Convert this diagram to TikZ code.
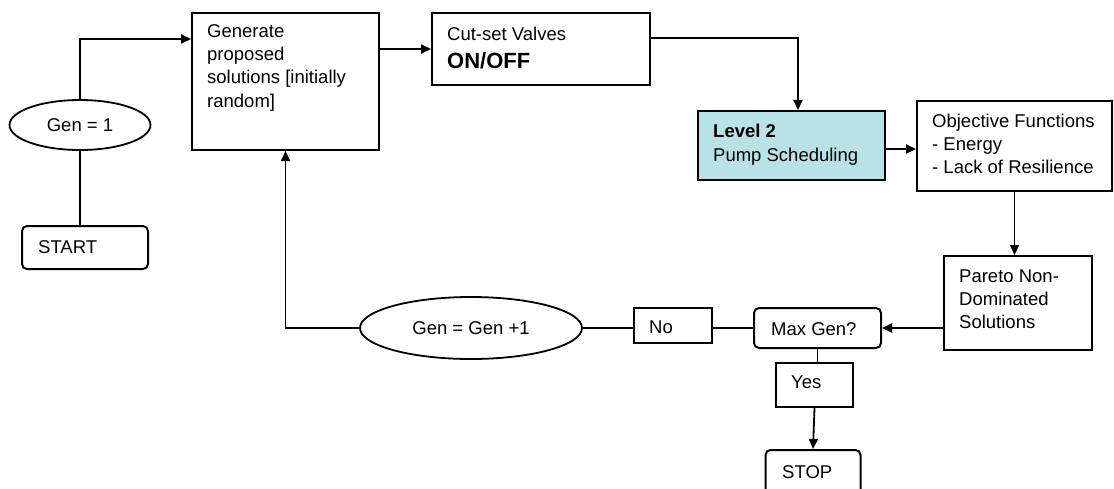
\documentclass[tikz,border=0pt]{standalone}
\usepackage{fontspec}
\setmainfont{Liberation Sans}
\usetikzlibrary{shapes.geometric,arrows.meta,calc}
\definecolor{lvlblue}{RGB}{184,226,230}
% strut of cap height so that the first line of a label has a fixed top
\newcommand\capline{\rule{0pt}{0.75em}}
\begin{document}
\begin{tikzpicture}[x=1pt,y=-1pt,
  font=\fontsize{18.5}{23.3}\selectfont,
  box/.style={draw=black,line width=2pt,fill=white,inner sep=0pt,rectangle},
  rbox/.style={box,rounded corners=5pt},
  oval/.style={draw=black,line width=1.8pt,fill=white,ellipse,inner sep=0pt},
  lbl/.style={anchor=north west,inner sep=0pt,align=left},
  word/.style={anchor=base west,inner sep=0pt},
  link/.style={line width=1.8pt},
  arr/.style={link,-{Triangle[length=10pt,width=9pt]}}]
\useasboundingbox (0,0) rectangle (1114,488);

% ---- start and initialisation
\node[rbox,minimum width=126pt,minimum height=43pt] (start) at (85,247.5) {};
\node[word] (startt) at (38,253) {START};
\node[oval,minimum width=141pt,minimum height=50pt] (g1) at (80,125) {Gen = 1};

% ---- main loop boxes
\node[box,minimum width=187pt,minimum height=137pt] (gen) at (285.5,81.5) {};
\node[lbl] (gent) at (207,23.1) {\capline Generate\\proposed\\solutions [initially\\random]};

\node[box,minimum width=218pt,minimum height=72pt] (cut) at (541,49) {};
\node[word] (cutt) at (447,40) {Cut-set Valves};
\node[word,font=\fontsize{22}{27}\selectfont\bfseries] (cutb) at (447,68) {ON/OFF};

\node[box,fill=lvlblue,minimum width=187pt,minimum height=69pt] (lvl) at (791.5,145.5) {};
\node[lbl,font=\fontsize{18.5}{24}\selectfont] (lvlt) at (713,123.1) {\capline\textbf{Level 2}\\Pump Scheduling};

\node[box,minimum width=195pt,minimum height=90pt] (obj) at (1014.5,146) {};
\node[lbl] (objt) at (932,113.1) {\capline Objective Functions\\- Energy\\- Lack of Resilience};

\node[box,minimum width=148pt,minimum height=94pt] (par) at (1018,303) {};
\node[lbl] (part) at (959,268.1) {\capline Pareto Non-\\Dominated\\Solutions};

% ---- decision and termination
\node[rbox,minimum width=127pt,minimum height=40pt] (mg) at (817.5,328) {};
\node[word] (mgt) at (771,335) {Max Gen?};
\node[box,minimum width=78pt,minimum height=35pt] (no) at (673,325.5) {};
\node[word] (not) at (649,333) {No};
\node[box,minimum width=77pt,minimum height=44pt] (yes) at (814.5,385) {};
\node[word] (yest) at (791,388) {Yes};
% the terminal box runs past the lower edge of the page
\node[rbox,minimum width=95pt,minimum height=56pt] (stop) at (813,478) {};
\node[word] (stopt) at (782,478) {STOP};

\node[oval,minimum width=222pt,minimum height=62pt] (g2) at (471,328) {Gen = Gen +1};

% ---- connectors
\draw[link] (start.north -| g1.south) -- (g1.south);
\draw[arr] (g1.north) |- ([yshift=-27pt]gen.north west);
\draw[arr] (gen.east |- cut.west) -- (cut.west);
\draw[arr] ([yshift=11pt]cut.east) -| ([xshift=6.5pt]lvl.north);
\draw[arr] ([yshift=-3.5pt]lvl.east) -- ([yshift=-3pt]obj.west);
\draw[arr] (obj.south) -- (obj.south |- par.north);
\draw[arr] (par.west |- mg.east) -- (mg.east);
\draw[link] (mg.west) -- (mg.west -| no.east);
\draw[link] (g2.east) -- (g2.east -| no.west);
\draw[arr] (g2.west) -| (gen.south);
\draw[link] (mg.south) -- (mg.south |- yes.north);
\draw[arr] (yes.south) -- (stop.north);
\end{tikzpicture}
\end{document}
